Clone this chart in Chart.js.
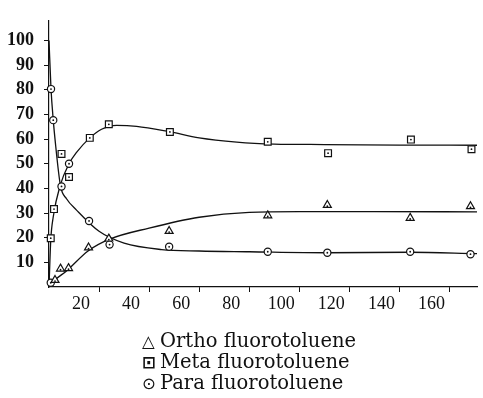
<!DOCTYPE html>
<html>
<head>
<meta charset="utf-8">
<script src="https://cdn.jsdelivr.net/npm/chart.js@4/dist/chart.umd.min.js"></script>
<style>
  html, body { margin: 0; padding: 0; background: #fff; }
  #wrap { position: relative; width: 483px; height: 398px; overflow: hidden; }
  #legend { position: absolute; left: 142px; top: 331px; font-family: "DejaVu Serif", serif; font-size: 19.5px; line-height: 20px; color: #111; white-space: nowrap; }
  #legend .sym { display: inline-block; width: 18px; font-family: "DejaVu Sans", sans-serif; font-size: 16.5px; }
</style>
</head>
<body>
<div id="wrap">
  <canvas id="c" width="483" height="398"></canvas>
  <div id="legend">
    <div><span class="sym">△</span>Ortho fluorotoluene</div>
    <div><span class="sym" style="font-weight:bold">⊡</span>Meta fluorotoluene</div>
    <div><span class="sym">⊙</span>Para fluorotoluene</div>
  </div>
</div>
<script>
// ---- data ----
const seriesNames = ["Ortho fluorotoluene", "Meta fluorotoluene", "Para fluorotoluene"];
const xTicks = [20, 40, 60, 80, 100, 120, 140, 160];
const yTicks = [10, 20, 30, 40, 50, 60, 70, 80, 90, 100];

// measured points
const orthoX = [2.4, 4.6, 7.8, 15.8, 23.9, 48, 87.4, 111.2, 144.3, 168.4];
const orthoY = [2.8, 7.4, 7.6, 16.0, 19.6, 22.7, 29.0, 33.2, 28.0, 32.7];
const metaX  = [0.7, 2.0, 5.0, 8.0, 16.3, 23.9, 48.3, 87.4, 111.5, 144.6, 168.8];
const metaY  = [19.8, 31.6, 54.0, 44.6, 60.5, 66.0, 62.9, 58.9, 54.3, 59.8, 55.9];
const paraX  = [0.7, 0.8, 1.7, 5.0, 8.0, 16.0, 24.2, 48, 87.4, 111.2, 144.3, 168.4];
const paraY  = [1.7, 80.3, 67.7, 40.8, 50.0, 26.8, 17.2, 16.3, 14.3, 13.9, 14.3, 13.3];

// fitted curves
const orthoCurveX = [0, 2, 7, 15.6, 24.2, 40, 60, 80, 100, 130, 171];
const orthoCurveY = [0, 2.5, 6.5, 14.6, 19.4, 23.9, 28.3, 30.3, 30.6, 30.6, 30.5];
const metaCurveX  = [0, 0.7, 1.7, 4.4, 8, 11, 16.3, 21, 27, 35, 48, 60, 75, 90, 110, 140, 171];
const metaCurveY  = [0, 19, 28.5, 41, 50, 54.6, 60.5, 64, 65.6, 65.2, 63, 60.5, 58.8, 58, 57.8, 57.6, 57.5];
const paraCurveX  = [0, 0.8, 1.7, 2.4, 4.6, 7, 11, 20, 30, 45, 60, 80, 111, 144, 171];
const paraCurveY  = [100, 80.4, 67.7, 60, 41, 35.8, 31.2, 22.6, 17.8, 15.2, 14.6, 14.3, 13.9, 14.1, 13.5];

const pts = (xs, ys) => xs.map((x, i) => ({ x: x, y: ys[i] }));

const INK = '#111';
function curve(xs, ys) {
  return { type: 'line', data: pts(xs, ys), borderColor: INK, borderWidth: 1.3,
           pointRadius: 0, cubicInterpolationMode: 'monotone', fill: false, order: 2 };
}
function marks(label, xs, ys, style, r) {
  return { type: 'scatter', label: label, data: pts(xs, ys), pointStyle: style, pointRadius: r,
           pointBackgroundColor: '#fff', pointBorderColor: INK, pointBorderWidth: 1.2,
           showLine: false, order: 1, centerDot: true };
}

const centerDots = {
  id: 'centerDots',
  afterDatasetsDraw(chart) {
    const ctx = chart.ctx;
    chart.data.datasets.forEach((ds, i) => {
      if (!ds.centerDot) return;
      chart.getDatasetMeta(i).data.forEach(p => {
        ctx.save();
        ctx.fillStyle = INK;
        ctx.beginPath();
        ctx.arc(p.x, p.y + (ds.pointStyle === 'triangle' ? 1 : 0), 0.9, 0, Math.PI * 2);
        ctx.fill();
        ctx.restore();
      });
    });
  }
};

new Chart(document.getElementById('c'), {
  data: {
    datasets: [
      curve(orthoCurveX, orthoCurveY),
      curve(metaCurveX, metaCurveY),
      curve(paraCurveX, paraCurveY),
      marks(seriesNames[0], orthoX, orthoY, 'triangle', 4.6),
      marks(seriesNames[1], metaX, metaY, 'rect', 4.8),
      marks(seriesNames[2], paraX, paraY, 'circle', 3.6)
    ]
  },
  options: {
    responsive: false,
    animation: false,
    clip: false,
    layout: { padding: { top: 13, right: 3, bottom: 80, left: 0 } },
    plugins: { legend: { display: false }, tooltip: { enabled: false } },
    scales: {
      x: {
        type: 'linear', min: 0, max: 171,
        afterFit: s => { s.height = 31; },
        afterBuildTicks: s => { s.ticks = xTicks.map(v => ({ value: v })); },
        grid: { drawOnChartArea: false, drawTicks: true, tickLength: 5, color: INK, lineWidth: 1 },
        border: { display: true, color: INK, width: 1.2 },
        ticks: { color: INK, padding: 1, labelOffset: -18, maxRotation: 0,
                 font: { family: 'Liberation Serif', size: 18 } }
      },
      y: {
        type: 'linear', min: 0, max: 108,
        afterFit: s => { s.width = 49; },
        afterBuildTicks: s => { s.ticks = yTicks.map(v => ({ value: v })); },
        grid: { drawOnChartArea: false, drawTicks: true, tickLength: 5, color: INK, lineWidth: 1 },
        border: { display: true, color: INK, width: 1.2 },
        ticks: { color: INK, padding: 10,
                 font: { family: 'Liberation Serif', size: 18, weight: 'bold' } }
      }
    }
  },
  plugins: [centerDots]
});
</script>
</body>
</html>
